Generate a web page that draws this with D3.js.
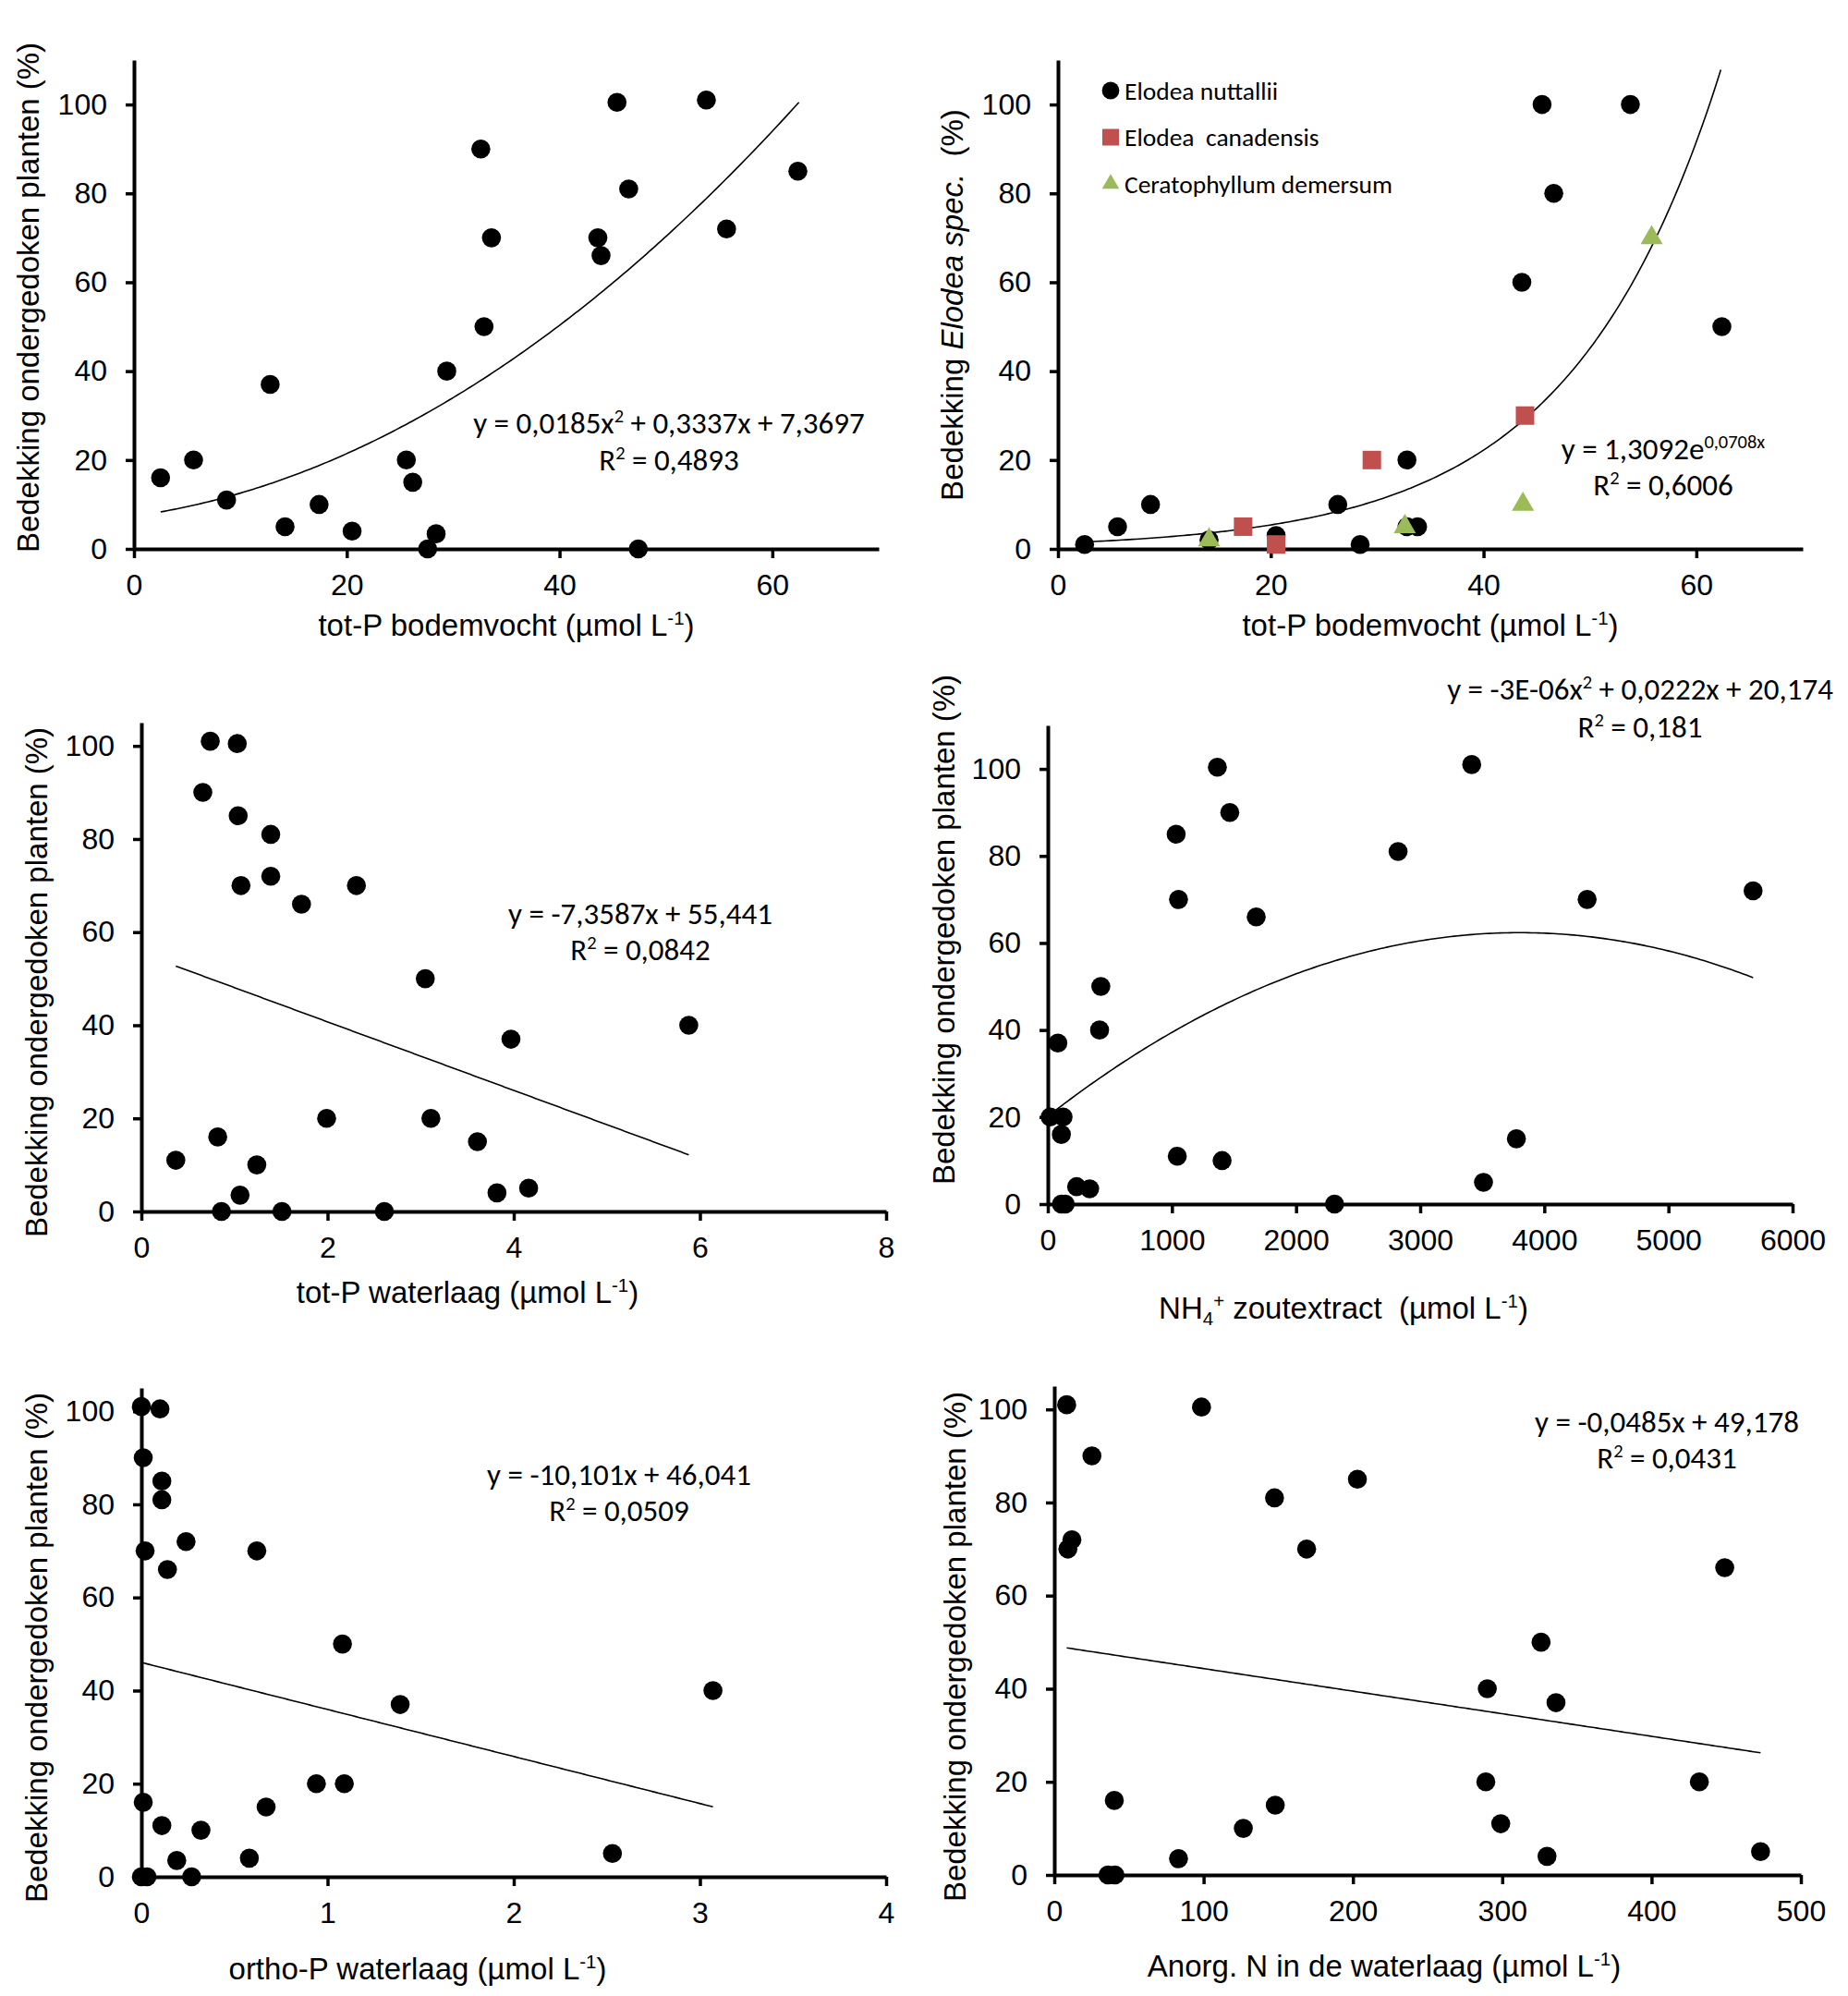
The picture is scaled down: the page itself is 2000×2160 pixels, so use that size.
<!DOCTYPE html>
<html>
<head>
<meta charset="utf-8">
<script src="https://cdn.jsdelivr.net/npm/d3@7"></script>
<style>
  body { margin: 0; background: #fff; }
  svg { display: block; }
  .tick text { font-family: "Liberation Sans", Arial, sans-serif; font-size: 32px; fill: #000; }
  .title { font-family: "Liberation Sans", Arial, sans-serif; font-size: 33px; fill: #000; white-space: pre; }
  .eq { font-family: Carlito, Lato, "Open Sans", sans-serif; font-size: 33px; fill: #000; white-space: pre; }
  .leg { font-family: Carlito, Lato, "Open Sans", sans-serif; font-size: 27.5px; fill: #000; white-space: pre; }
</style>
</head>
<body>
<div id="chart"></div>
<script>
// ---- data ----
var p1X = [2.5, 5.6, 8.7, 12.8, 14.2, 17.4, 20.5, 25.6, 26.2, 27.6, 28.4, 29.4, 32.6, 32.9, 33.6, 43.6, 43.9, 45.4, 46.5, 47.4, 53.8, 55.7, 62.4];
var p1Y = [16, 20, 11, 37, 5, 10, 4, 20, 15, 0, 3.4, 40, 90, 50, 70, 70, 66, 100.5, 81, 0, 101, 72, 85];

var nuttalliiX = [2.5, 5.6, 8.7, 14.2, 20.5, 26.3, 28.4, 32.8, 32.8, 33.8, 43.6, 45.5, 46.6, 53.8, 62.4];
var nuttalliiY = [1, 5, 10, 2, 3, 10, 1, 20, 5, 5, 60, 100, 80, 100, 50];
var canadensisX = [17.4, 20.5, 29.5, 43.9];
var canadensisY = [5, 1, 20, 30];
var ceratoX = [14.2, 32.6, 43.7, 55.8];
var ceratoY = [2, 5, 10, 70];

var p3X = [0.74, 1.03, 0.66, 1.04, 1.39, 1.07, 1.39, 1.72, 2.31, 3.05, 5.88, 3.97, 1.99, 3.11, 3.61, 0.82, 0.37, 1.24, 1.06, 3.82, 4.16, 0.86, 1.51, 2.61];
var p3Y = [101, 100.5, 90, 85, 81, 70, 72, 66, 70, 50, 40, 37, 20, 20, 15, 16, 11, 10, 3.5, 4, 5, 0, 0, 0];

var p4X = [1366, 3415, 1466, 1034, 2822, 1053, 4345, 5682, 1679, 427, 417, 81, 19, 123, 109, 1043, 1404, 3775, 3510, 232, 337, 110, 140, 2310];
var p4Y = [100.4, 101, 90, 85, 81, 70, 70, 72, 66, 50, 40, 37, 20, 20, 16, 11, 10, 15, 5, 4, 3.5, 0, 0, 0];

var p5X = [0, 0.10, 0.01, 0.11, 0.11, 0.02, 0.24, 0.14, 0.62, 1.08, 1.39, 3.07, 0.94, 1.09, 0.67, 0.01, 0.11, 0.32, 0.19, 0.58, 2.53, 0, 0.03, 0.27];
var p5Y = [101, 100.5, 90, 85, 81, 70, 72, 66, 70, 50, 37, 40, 20, 20, 15, 16, 11, 10, 3.5, 4, 5, 0, 0, 0];

var p6X = [8.3, 98.6, 25.2, 203, 147.5, 11.8, 9.1, 169, 449, 326, 290, 336, 289, 432, 40.2, 148, 299, 126.6, 83.2, 330, 473, 36, 40.6];
var p6Y = [101, 100.5, 90, 85, 81, 72, 70, 70, 66, 50, 40, 37, 20, 20, 16, 15, 11, 10, 3.5, 4, 5, 0, 0];

// trendline coefficients (as printed in the chart) and x-range of each fit
var trend1 = [7.3697, 0.3337, 0.0185], trend1Range = [2.5, 62.5];
var trend2 = [1.3092, 0.0708], trend2Range = [2.5, 62.6];
var trend3 = [55.441, -7.3587], trend3Range = [0.37, 5.88];
var trend4 = [20.174, 0.0222, -2.92e-6], trend4Range = [19, 5682];
var trend5 = [46.041, -10.101], trend5Range = [0, 3.07];
var trend6 = [49.178, -0.0485], trend6Range = [8.3, 473];

var yTicks = [0, 20, 40, 60, 80, 100];
var xTicks1 = [0, 20, 40, 60];
var xTicks3 = [0, 2, 4, 6, 8];
var xTicks4 = [0, 1000, 2000, 3000, 4000, 5000, 6000];
var xTicks5 = [0, 1, 2, 3, 4];
var xTicks6 = [0, 100, 200, 300, 400, 500];

var RED = "#c0504d", GREEN = "#9bbb59";

var svg = d3.select("#chart").append("svg")
    .attr("width", 2000)
    .attr("height", 2160);

function poly(c) {
    return function (x) {
        var s = 0;
        for (var i = 0; i < c.length; i++) s += c[i] * Math.pow(x, i);
        return s;
    };
}
function expo(c) {
    return function (x) { return c[0] * Math.exp(c[1] * x); };
}

// text with raised / lowered / italic parts: parts = [[text, kind]]
function richText(g, cls, size, x, y, parts, rotate) {
    var t = g.append("text")
        .attr("class", cls)
        .attr("text-anchor", "middle");
    if (rotate) t.attr("transform", "translate(" + x + "," + y + ") rotate(-90)");
    else t.attr("x", x).attr("y", y);
    var shift = 0;
    parts.forEach(function (p) {
        var ts = t.append("tspan").text(p[0]);
        var target = 0;
        if (p[1] == "sup") target = -0.36 * size;
        if (p[1] == "sub") target = 0.22 * size;
        if (p[1] == "sup" || p[1] == "sub") ts.style("font-size", (size * 0.62) + "px");
        if (p[1] == "italic") ts.style("font-style", "italic");
        if (target != shift) ts.attr("dy", target - shift);
        shift = target;
    });
    return t;
}

function drawPanel(cfg) {
    var g = svg.append("g");
    var x = d3.scaleLinear().domain(cfg.xDomain).range(cfg.xRange);
    var y = d3.scaleLinear().domain(cfg.yDomain).range(cfg.yRange);

    // trendline
    var f = cfg.trendFn;
    var xs = d3.range(0, 201).map(function (i) {
        return cfg.trendRange[0] + (cfg.trendRange[1] - cfg.trendRange[0]) * i / 200;
    });
    var pts = xs.map(function (v) { return [v, f(v)]; })
        .filter(function (p) { return p[1] <= cfg.yDomain[1]; });
    g.append("path")
        .attr("d", d3.line().x(function (d) { return x(d[0]); }).y(function (d) { return y(d[1]); })(pts))
        .attr("fill", "none")
        .attr("stroke", "#000")
        .attr("stroke-width", 1.6);

    // axes
    var xAxis = g.append("g")
        .attr("transform", "translate(0," + cfg.yRange[0] + ")")
        .call(d3.axisBottom(x).tickValues(cfg.xTicks).tickSize(10).tickSizeOuter(0).tickPadding(17).tickFormat(d3.format("d")));
    var yAxis = g.append("g")
        .attr("transform", "translate(" + cfg.xRange[0] + ",0)")
        .call(d3.axisLeft(y).tickValues(yTicks).tickSize(9).tickSizeOuter(0).tickPadding(20));
    [xAxis, yAxis].forEach(function (a) {
        a.select(".domain").attr("stroke", "#000").attr("stroke-width", 4);
        a.selectAll(".tick line").attr("stroke", "#000").attr("stroke-width", 3.5);
        a.attr("font-family", null).attr("font-size", null);
    });

    // series
    cfg.series.forEach(function (s) {
        var data = s.x.map(function (v, i) { return [v, s.y[i]]; });
        g.selectAll(null).data(data).enter()
            .append("path")
            .attr("transform", function (d) { return "translate(" + x(d[0]) + "," + y(d[1]) + ")"; })
            .attr("d", d3.symbol().type(s.shape).size(s.size))
            .attr("fill", s.color);
    });

    // titles
    richText(g, "title", 33, cfg.xTitle.x, cfg.xTitle.y, cfg.xTitle.parts);
    richText(g, "title", 33, cfg.yTitle.x, cfg.yTitle.y, cfg.yTitle.parts, true);

    // equation
    richText(g, "eq", 33, cfg.eq.x, cfg.eq.y1, cfg.eq.line1);
    richText(g, "eq", 33, cfg.eq.x, cfg.eq.y2, [["R", 0], ["2", "sup"], [" = " + cfg.eq.r2, 0]]);
    return { x: x, y: y, g: g };
}

var circle = function (xs, ys) { return { x: xs, y: ys, shape: d3.symbolCircle, size: Math.PI * 10.3 * 10.3, color: "#000" }; };
var unitTitle = function (label) { return [[label + "(\u00b5mol L", 0], ["-1", "sup"], [")", 0]]; };
var yPlant = [["Bedekking ondergedoken planten (%)", 0]];

drawPanel({
    xDomain: [0, 70], xRange: [145, 951], yDomain: [0, 110], yRange: [594, 65],
    xTicks: xTicks1, series: [circle(p1X, p1Y)],
    trendFn: poly(trend1), trendRange: trend1Range,
    xTitle: { x: 548, y: 688, parts: unitTitle("tot-P bodemvocht ") },
    yTitle: { x: 42, y: 322, parts: yPlant },
    eq: { x: 724, y1: 469, y2: 509, line1: [["y = 0,0185x", 0], ["2", "sup"], [" + 0,3337x + 7,3697", 0]], r2: "0,4893" }
});

drawPanel({
    xDomain: [0, 70], xRange: [1145, 1951], yDomain: [0, 110], yRange: [594, 65],
    xTicks: xTicks1,
    series: [
        circle(nuttalliiX, nuttalliiY),
        { x: canadensisX, y: canadensisY, shape: d3.symbolSquare, size: 20 * 20, color: RED },
        { x: ceratoX, y: ceratoY, shape: d3.symbolTriangle, size: 250, color: GREEN }
    ],
    trendFn: expo(trend2), trendRange: trend2Range,
    xTitle: { x: 1548, y: 688, parts: unitTitle("tot-P bodemvocht ") },
    yTitle: { x: 1042, y: 330, parts: [["Bedekking ", 0], ["Elodea spec.", "italic"], ["  (%)", 0]] },
    eq: { x: 1800, y1: 497, y2: 536, line1: [["y = 1,3092e", 0], ["0,0708x", "sup"]], r2: "0,6006" }
});

// legend of panel 2
var legNames = ["Elodea nuttallii", "Elodea  canadensis", "Ceratophyllum demersum"];
var legShapes = [d3.symbolCircle, d3.symbolSquare, d3.symbolTriangle];
var legSizes = [Math.PI * 9.4 * 9.4, 18 * 18, 150];
var legColors = ["#000", RED, GREEN];
var leg = svg.append("g").attr("transform", "translate(1202,98)");
legNames.forEach(function (n, i) {
    leg.append("path")
        .attr("transform", "translate(0," + (i * 50.5) + ")")
        .attr("d", d3.symbol().type(legShapes[i]).size(legSizes[i]))
        .attr("fill", legColors[i]);
    leg.append("text").attr("class", "leg")
        .attr("x", 15).attr("y", i * 50.5 + 9.5)
        .text(n);
});

drawPanel({
    xDomain: [0, 8], xRange: [153, 959], yDomain: [0, 105], yRange: [1311, 782],
    xTicks: xTicks3, series: [circle(p3X, p3Y)],
    trendFn: poly(trend3), trendRange: trend3Range,
    xTitle: { x: 506, y: 1410, parts: unitTitle("tot-P waterlaag ") },
    yTitle: { x: 51, y: 1063, parts: yPlant },
    eq: { x: 693, y1: 1000, y2: 1039, line1: [["y = -7,3587x + 55,441", 0]], r2: "0,0842" }
});

drawPanel({
    xDomain: [0, 6000], xRange: [1134, 1940], yDomain: [0, 110], yRange: [1303, 785],
    xTicks: xTicks4, series: [circle(p4X, p4Y)],
    trendFn: poly(trend4), trendRange: trend4Range,
    xTitle: { x: 1454, y: 1427, parts: [["NH", 0], ["4", "sub"], ["+", "sup"], [" zoutextract  (\u00b5mol L", 0], ["-1", "sup"], [")", 0]] },
    yTitle: { x: 1033, y: 1006, parts: yPlant },
    eq: { x: 1775, y1: 757, y2: 798, line1: [["y = -3E-06x", 0], ["2", "sup"], [" + 0,0222x + 20,174", 0]], r2: "0,181" }
});

drawPanel({
    xDomain: [0, 4], xRange: [153, 959], yDomain: [0, 105], yRange: [2031, 1502],
    xTicks: xTicks5, series: [circle(p5X, p5Y)],
    trendFn: poly(trend5), trendRange: trend5Range,
    xTitle: { x: 452, y: 2142, parts: unitTitle("ortho-P waterlaag ") },
    yTitle: { x: 51, y: 1783, parts: yPlant },
    eq: { x: 670, y1: 1607, y2: 1646, line1: [["y = -10,101x + 46,041", 0]], r2: "0,0509" }
});

drawPanel({
    xDomain: [0, 500], xRange: [1141, 1949], yDomain: [0, 105], yRange: [2029, 1500],
    xTicks: xTicks6, series: [circle(p6X, p6Y)],
    trendFn: poly(trend6), trendRange: trend6Range,
    xTitle: { x: 1498, y: 2139, parts: unitTitle("Anorg. N in de waterlaag ") },
    yTitle: { x: 1045, y: 1782, parts: yPlant },
    eq: { x: 1804, y1: 1550, y2: 1589, line1: [["y = -0,0485x + 49,178", 0]], r2: "0,0431" }
});
</script>
</body>
</html>
